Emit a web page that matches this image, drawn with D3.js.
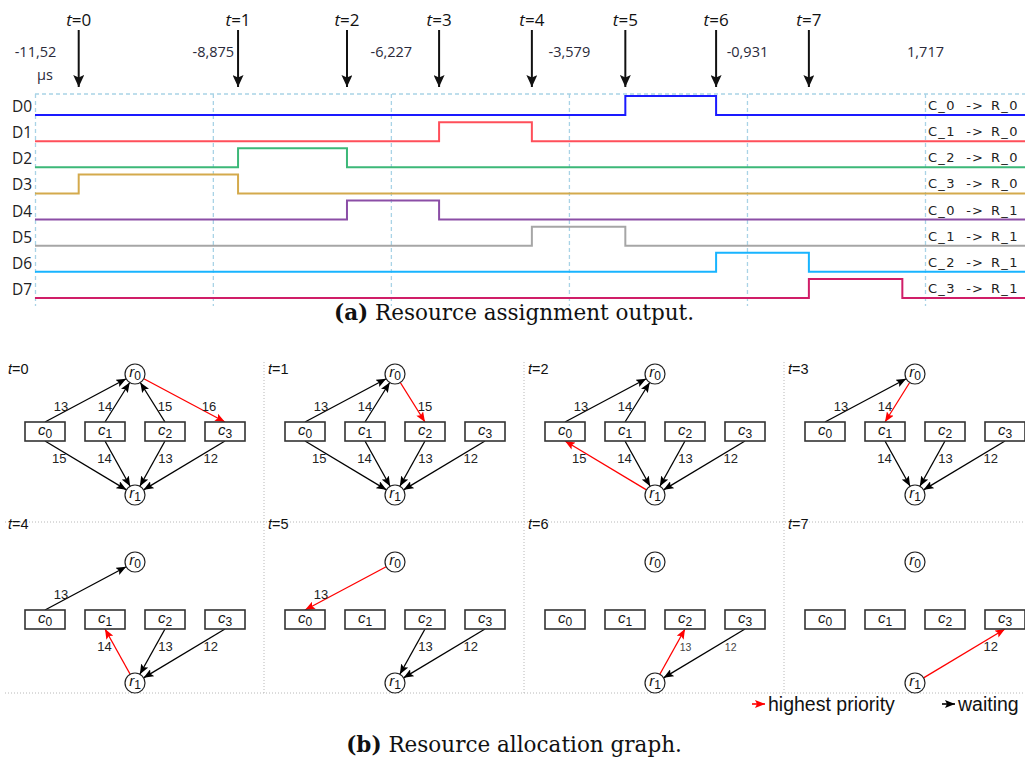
<!DOCTYPE html>
<html>
<head>
<meta charset="utf-8">
<script src="https://cdn.jsdelivr.net/npm/d3@7"></script>
<style>
  body { margin: 0; background: #fff; }
  svg { display: block; }
</style>
</head>
<body>
<svg id="fig" width="1025" height="758"></svg>
<script>
// ---------- (a) timing trace data ----------
const tickValues = [-11.52, -8.875, -6.227, -3.579, -0.931, 1.717];
const tickLabels = ["-11,52", "-8,875", "-6,227", "-3,579", "-0,931", "1,717"];
const timeUnit = "µs";
// switching instants of the assignment signals (µs)
const eventTimes = [-10.87, -8.50, -6.88, -5.51, -4.13, -2.74, -1.39, -0.01, 1.38];
const stepNames = ["0", "1", "2", "3", "4", "5", "6", "7"];
const signalNames = ["D0", "D1", "D2", "D3", "D4", "D5", "D6", "D7"];
const signalPairs = ["C_0 -> R_0", "C_1 -> R_0", "C_2 -> R_0", "C_3 -> R_0",
                     "C_0 -> R_1", "C_1 -> R_1", "C_2 -> R_1", "C_3 -> R_1"];
// index of the step interval during which each signal is high
const highSlot = [5, 3, 1, 0, 2, 4, 6, 7];
const signalColors = ["#1a1aff", "#ff4f5a", "#3cb878", "#d4aa4c",
                      "#8b4ea6", "#a6a6a6", "#18b4ff", "#d01e68"];

// ---------- (b) resource allocation graph data ----------
const clients = ["0", "1", "2", "3"];
const resources = ["0", "1"];
// per step: [client, resource, weight, granted(1) / waiting(0)]
const graphEdges = [
  [[0,0,13,0],[1,0,14,0],[2,0,15,0],[3,0,16,1],[0,1,15,0],[1,1,14,0],[2,1,13,0],[3,1,12,0]],
  [[0,0,13,0],[1,0,14,0],[2,0,15,1],[0,1,15,0],[1,1,14,0],[2,1,13,0],[3,1,12,0]],
  [[0,0,13,0],[1,0,14,0],[0,1,15,1],[1,1,14,0],[2,1,13,0],[3,1,12,0]],
  [[0,0,13,0],[1,0,14,1],[1,1,14,0],[2,1,13,0],[3,1,12,0]],
  [[0,0,13,0],[1,1,14,1],[2,1,13,0],[3,1,12,0]],
  [[0,0,13,1],[2,1,13,0],[3,1,12,0]],
  [[2,1,13,1],[3,1,12,0]],
  [[3,1,12,1]]
];
const legendLabels = ["highest priority", "waiting"];
const captionA = ["(a)", " Resource assignment output."];
const captionB = ["(b)", " Resource allocation graph."];

const svg = d3.select("#fig");
const uiFont = "'Open Sans', 'Noto Sans', sans-serif";
const arialFont = "'Liberation Sans', Arial, sans-serif";

// markers
const defs = svg.append("defs");
function marker(id, color, len, wid) {
  defs.append("marker")
    .attr("id", id).attr("markerUnits", "userSpaceOnUse")
    .attr("markerWidth", len).attr("markerHeight", wid)
    .attr("refX", len).attr("refY", wid / 2).attr("orient", "auto")
    .append("path")
    .attr("d", `M0,0 L${len},${wid / 2} L0,${wid} L${len * 0.2},${wid / 2} Z`)
    .attr("fill", color);
}
marker("ah-big", "#111", 12, 11);
marker("ah-black", "#000", 10, 8);
marker("ah-red", "#ff0000", 10, 8);

// ================= (a) timing diagram =================
const x = d3.scaleLinear().domain([tickValues[0], tickValues[tickValues.length - 1]]).range([35, 925]);
const xEnd = x.invert(1025);
const rowY = d3.scaleLinear().domain([0, 7]).range([115, 298]);
const highH = 19;
const timing = svg.append("g");

// dashed frame / grid
timing.append("line").attr("x1", 35).attr("x2", 1025).attr("y1", 94).attr("y2", 94)
  .attr("stroke", "#a9d3e6").attr("stroke-width", 1.3).attr("stroke-dasharray", "4,3");
const grid = timing.append("g").attr("transform", "translate(0,94)")
  .call(d3.axisBottom(x).tickValues(tickValues).tickSize(212).tickFormat(""));
grid.select(".domain").remove();
grid.selectAll(".tick line").attr("stroke", "#a9d3e6").attr("stroke-width", 1.3)
  .attr("stroke-dasharray", "4,3");

// time labels
const tickAxis = timing.append("g").attr("transform", "translate(0,57)")
  .call(d3.axisTop(x).tickValues(tickValues).tickSize(0).tickPadding(0)
    .tickFormat((d, i) => tickLabels[i]));
tickAxis.select(".domain").remove();
tickAxis.selectAll("text").attr("font-family", uiFont).attr("font-size", 14.5)
  .attr("fill", "#2a2a3a").attr("dy", 0);
timing.append("text").attr("x", 45).attr("y", 80).attr("text-anchor", "middle")
  .attr("font-family", uiFont).attr("font-size", 14.5).attr("fill", "#2a2a3a").text(timeUnit);

// step arrows
const arrows = timing.append("g");
stepNames.forEach((s, i) => {
  const ax = x(eventTimes[i]);
  arrows.append("line").attr("x1", ax).attr("x2", ax).attr("y1", 30).attr("y2", 87)
    .attr("stroke", "#111").attr("stroke-width", 2).attr("marker-end", "url(#ah-big)");
  const t = arrows.append("text").attr("x", ax).attr("y", 26).attr("text-anchor", "middle")
    .attr("font-family", uiFont).attr("font-size", 17).attr("fill", "#111");
  t.append("tspan").attr("font-style", "italic").text("t");
  t.append("tspan").text("=" + s);
});

// signal traces
const traceLine = d3.line().x(d => x(d[0])).y(d => d[1]).curve(d3.curveStepAfter);
const cellW = 9; // fixed character pitch for the channel mapping labels
signalNames.forEach((name, i) => {
  const base = rowY(i);
  const k = highSlot[i];
  const pts = [[tickValues[0], base], [eventTimes[k], base - highH],
               [eventTimes[k + 1], base], [xEnd, base]];
  timing.append("path").attr("d", traceLine(pts)).attr("fill", "none")
    .attr("stroke", signalColors[i]).attr("stroke-width", 2);
  timing.append("text").attr("x", 12).attr("y", base - 3)
    .attr("font-family", uiFont).attr("font-size", 15.5).attr("fill", "#222").text(name);
  const chars = Array.from(signalPairs[i]);
  timing.append("text")
    .attr("x", chars.map((ch, j) => 928 + cellW / 2 + j * cellW).join(" "))
    .attr("y", base - 5).attr("text-anchor", "middle").attr("xml:space", "preserve")
    .attr("font-family", "'DejaVu Sans', Verdana, sans-serif").attr("font-size", 13)
    .attr("fill", "#222").text(signalPairs[i]);
});

// captions
function caption(parts, y) {
  const t = svg.append("text").attr("x", 514).attr("y", y).attr("text-anchor", "middle")
    .attr("font-family", "'DejaVu Serif', serif").attr("font-size", 21.5).attr("fill", "#111");
  t.append("tspan").attr("font-weight", "bold").text(parts[0]);
  t.append("tspan").text(parts[1]);
}
caption(captionA, 320);
caption(captionB, 752);

// ================= (b) allocation graphs =================
const panelW = 260;
const dotted = svg.append("g").attr("stroke", "#b8b8b8").attr("stroke-width", 1)
  .attr("stroke-dasharray", "1,2");
[1, 2, 3].forEach(c => {
  dotted.append("line").attr("x1", 4 + c * panelW).attr("x2", 4 + c * panelW)
    .attr("y1", 362).attr("y2", 693);
});
[522, 693].forEach(y => {
  dotted.append("line").attr("x1", 5).attr("x2", 1025).attr("y1", y).attr("y2", y);
});

function nodeLabel(g, cx, cy, letter, sub) {
  const t = g.append("text").attr("x", cx).attr("y", cy + 5).attr("text-anchor", "middle")
    .attr("font-family", arialFont).attr("font-size", 15).attr("fill", "#111");
  t.append("tspan").attr("font-style", "italic").text(letter);
  t.append("tspan").attr("font-size", 12).attr("dy", 3).text(sub);
}

const R = 10, boxW = 40, boxH = 19;
graphEdges.forEach((edges, i) => {
  const col = i % 4, row = Math.floor(i / 4);
  const ox = 5 + col * panelW;
  const oy = row * 188;
  const g = svg.append("g");
  const cx = d3.scalePoint().domain(clients).range([ox + 40, ox + 220]);
  const rx = ox + 130;
  const ry = d3.scalePoint().domain(resources).range([374 + oy, 495 + oy]);
  const boxTop = 422 + oy;

  // step label
  const tl = g.append("text").attr("x", ox + 3).attr("y", 374 + oy - (row ? 33 : 0))
    .attr("font-family", arialFont).attr("font-size", 14.5).attr("fill", "#111");
  tl.append("tspan").attr("font-style", "italic").text("t");
  tl.append("tspan").text("=" + stepNames[i]);

  // edges
  edges.forEach(([c, r, w, granted]) => {
    const bx = cx(clients[c]);
    const by = r === 0 ? boxTop : boxTop + boxH;
    const rcy = ry(resources[r]);
    const dx = bx - rx, dy = by - rcy, len = Math.hypot(dx, dy);
    const px = rx + dx / len * R, py = rcy + dy / len * R;
    const line = g.append("line").attr("stroke-width", 1.3);
    if (granted) {
      line.attr("x1", px).attr("y1", py).attr("x2", bx).attr("y2", by)
        .attr("stroke", "#ff0000").attr("marker-end", "url(#ah-red)");
    } else {
      line.attr("x1", bx).attr("y1", by).attr("x2", px).attr("y2", py)
        .attr("stroke", "#000").attr("marker-end", "url(#ah-black)");
    }
    const ly = r === 0 ? boxTop - 16 : boxTop + boxH + 17;
    const tt = (ly - by) / (rcy - by);
    const ex = bx + tt * (rx - bx);
    const off = (8 + 6 * Math.abs(dx) / 90) * Math.sign(dx);
    g.append("text").attr("x", ex + off).attr("y", ly + 5).attr("text-anchor", "middle")
      .attr("font-family", arialFont).attr("font-size", i === 6 ? 10.5 : 13)
      .attr("fill", i === 6 ? "#444" : "#222").text(w);
  });

  // client boxes
  clients.forEach(c => {
    g.append("rect").attr("x", cx(c) - boxW / 2).attr("y", boxTop)
      .attr("width", boxW).attr("height", boxH)
      .attr("fill", "#fff").attr("stroke", "#333").attr("stroke-width", 1.6);
    nodeLabel(g, cx(c), boxTop + boxH / 2 - 2, "c", c);
  });
  // resource circles
  resources.forEach(r => {
    g.append("circle").attr("cx", rx).attr("cy", ry(r)).attr("r", R)
      .attr("fill", "#fff").attr("stroke", "#222").attr("stroke-width", 1.2);
    nodeLabel(g, rx, ry(r) - 2, "r", r);
  });
});

// legend
const lg = svg.append("g").attr("font-family", arialFont).attr("font-size", 19.5).attr("fill", "#111");
[["#ff0000", "url(#ah-red)", 752], ["#000", "url(#ah-black)", 942]].forEach((d, i) => {
  lg.append("line").attr("x1", d[2]).attr("x2", d[2] + 13).attr("y1", 704).attr("y2", 704)
    .attr("stroke", d[0]).attr("stroke-width", 1.6).attr("marker-end", d[1]);
  lg.append("text").attr("x", d[2] + 16).attr("y", 711).text(legendLabels[i]);
});
</script>
</body>
</html>
